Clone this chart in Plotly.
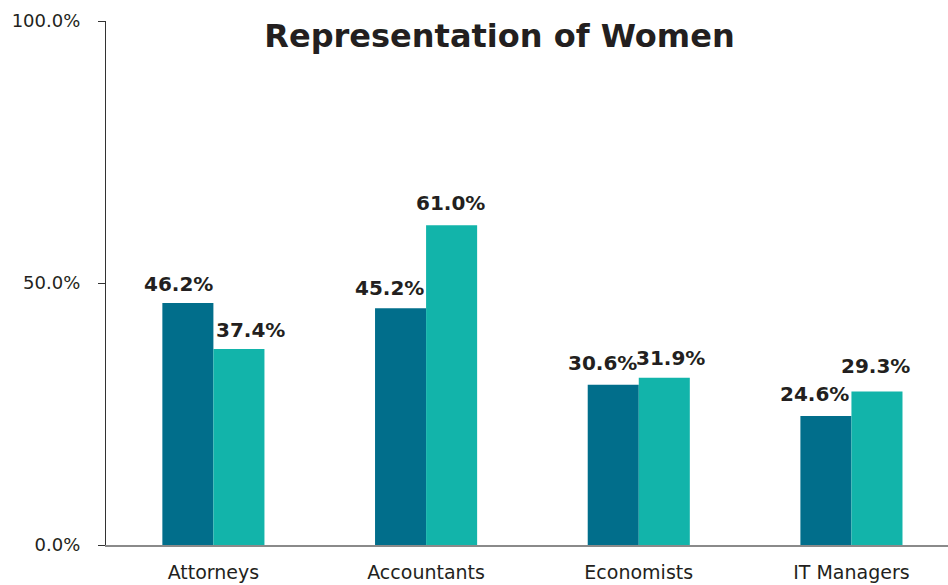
import plotly.graph_objects as go

categories = ["Attorneys", "Accountants", "Economists", "IT Managers"]
series_a = [46.2, 45.2, 30.6, 24.6]
series_b = [37.4, 61.0, 31.9, 29.3]
y_tick_values = [0, 50, 100]
y_tick_labels = ["0.0%", "50.0%", "100.0%"]
title_text = "Representation of Women"

COLOR_A = "#016E8B"
COLOR_B = "#12B4AA"
TEXT = "#231F20"
FONT = "DejaVu Sans"

# label placement tweaks (pixels) relative to each category centre / bar top
shift_a_x = [-35, -36.5, -36.5, -37]
shift_b_x = [37, 24.5, 31.5, 24]
shift_a_y = [19, 20, 22, 22]
shift_b_y = [19, 22, 20, 25]

fig = go.Figure()
fig.add_trace(go.Bar(x=categories, y=series_a, marker_color=COLOR_A, marker_line_width=0, name="A"))
fig.add_trace(go.Bar(x=categories, y=series_b, marker_color=COLOR_B, marker_line_width=0, name="B"))

for i, c in enumerate(categories):
    fig.add_annotation(x=c, y=series_a[i], xref="x", yref="y", text=f"{series_a[i]:.1f}%",
                       showarrow=False, xanchor="center", yanchor="middle",
                       xshift=shift_a_x[i], yshift=shift_a_y[i],
                       font=dict(family=FONT, size=20, color=TEXT, weight=700))
    fig.add_annotation(x=c, y=series_b[i], xref="x", yref="y", text=f"{series_b[i]:.1f}%",
                       showarrow=False, xanchor="center", yanchor="middle",
                       xshift=shift_b_x[i], yshift=shift_b_y[i],
                       font=dict(family=FONT, size=20, color=TEXT, weight=700))

fig.update_layout(
    width=948, height=585,
    margin=dict(l=106, r=0, t=21, b=40),
    paper_bgcolor="white", plot_bgcolor="white",
    showlegend=False,
    barmode="group", bargap=0.52, bargroupgap=0,
    font=dict(family=FONT, color=TEXT),
    title=dict(text=title_text, x=499.5 / 948, xanchor="center", xref="container",
               y=1 - 36 / 585, yanchor="middle", yref="container",
               font=dict(family=FONT, size=32, color=TEXT, weight=700)),
)
fig.update_xaxes(range=[-0.505, 3.454], showgrid=False, showline=True, linecolor="#8A8A8A",
                 linewidth=1.5, ticks="", tickfont=dict(family=FONT, size=19, color=TEXT),
                 zeroline=False, automargin=False, ticklabelstandoff=9)
fig.update_yaxes(range=[0, 100], tickvals=y_tick_values, ticktext=y_tick_labels,
                 showgrid=False, showline=True, linecolor="#333333", linewidth=1.2,
                 ticks="outside", ticklen=7, tickcolor="#333333", tickwidth=1.2,
                 tickfont=dict(family=FONT, size=18, color=TEXT), zeroline=False,
                 automargin=False, ticklabelstandoff=14)

fig.write_html("out.html", config={"displayModeBar": False},
               post_script="document.body.style.margin='0';document.body.style.overflow='hidden';")
